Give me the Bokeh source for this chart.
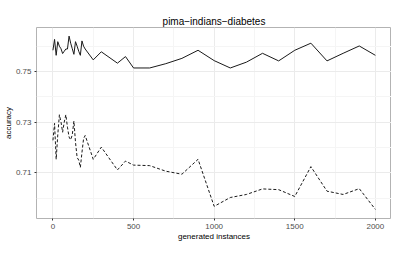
from bokeh.plotting import figure
from bokeh.models import Range1d, FixedTicker, Title
from bokeh.embed import file_html
from bokeh.resources import INLINE

# data
instances = [0, 10, 20, 30, 40, 50, 60, 70, 80, 90, 100, 110, 120, 130, 140, 150, 160, 170, 180, 190, 200,
             250, 300, 400, 450, 500, 600, 700, 800, 900, 1000, 1100, 1200, 1300, 1400, 1500, 1600, 1700,
             1800, 1900, 2000]
acc_solid = [0.7584, 0.7627, 0.7564, 0.7618, 0.7600, 0.7590, 0.7571, 0.7580, 0.7589, 0.7589, 0.7640,
             0.7612, 0.7590, 0.7568, 0.7618, 0.7600, 0.7580, 0.7564, 0.7621, 0.7600, 0.7589,
             0.7546, 0.7578, 0.7533, 0.7559, 0.7514, 0.7514, 0.7531, 0.7552, 0.7584, 0.7543, 0.7514,
             0.7537, 0.7572, 0.7542, 0.7584, 0.7612, 0.7542, 0.7572, 0.7601, 0.7564]
acc_dashed = [0.7228, 0.7295, 0.7153, 0.7250, 0.7329, 0.7300, 0.7260, 0.7300, 0.7329, 0.7280, 0.7241,
              0.7230, 0.7250, 0.7304, 0.7220, 0.7160, 0.7150, 0.7121, 0.7180, 0.7235, 0.7247,
              0.7153, 0.7201, 0.7111, 0.7146, 0.7130, 0.7128, 0.7106, 0.7094, 0.7153, 0.6967, 0.7002,
              0.7014, 0.7036, 0.7033, 0.7006, 0.7124, 0.7027, 0.7014, 0.7037, 0.6955]
x_ticks = [0, 500, 1000, 1500, 2000]
y_ticks = [0.71, 0.73, 0.75]

p = figure(width=391, height=243, output_backend="svg", toolbar_location=None,
           x_range=Range1d(-102, 2100), y_range=Range1d(0.6919, 0.7674),
           min_border_left=0, min_border_right=0, min_border_top=0, min_border_bottom=24)

t = Title(text="pima\u2212indians\u2212diabetes", align="center", text_font_size="10px",
          text_font="Liberation Sans", text_font_style="normal", text_color="black",
          standoff=1, offset=0)
p.add_layout(t, "above")
p.add_layout(Title(text=" ", text_font_size="10px", standoff=0), "above")

p.background_fill_color = "white"
p.border_fill_color = "white"
p.outline_line_color = "#b3b3b3"
p.outline_line_width = 1

p.xaxis.ticker = FixedTicker(ticks=x_ticks, minor_ticks=[250, 750, 1250, 1750])
p.yaxis.ticker = FixedTicker(ticks=y_ticks, minor_ticks=[0.70, 0.72, 0.74, 0.76])
p.yaxis.formatter.use_scientific = False

for ax in (p.xaxis, p.yaxis):
    ax.axis_line_color = None
    ax.major_tick_line_color = "#333333"
    ax.major_tick_out = 2
    ax.major_tick_in = 0
    ax.minor_tick_line_color = None
    ax.major_label_text_font = "Liberation Sans"
    ax.major_label_text_font_size = "8px"
    ax.major_label_text_color = "#4d4d4d"
    ax.axis_label_text_font = "Liberation Sans"
    ax.axis_label_text_font_size = "8px"
    ax.axis_label_text_font_style = "normal"
    ax.axis_label_text_color = "black"
    ax.major_label_standoff = 1
    ax.axis_label_standoff = 0

p.xaxis.axis_label = "generated instances"
p.yaxis.axis_label = "accuracy"

p.xgrid.grid_line_color = "#ebebeb"
p.ygrid.grid_line_color = "#ebebeb"
p.xgrid.minor_grid_line_color = "#f5f5f5"
p.ygrid.minor_grid_line_color = "#f5f5f5"
p.xgrid.grid_line_width = 1
p.ygrid.grid_line_width = 1

p.line(instances, acc_solid, line_color="#1a1a1a", line_width=1)
p.line(instances, acc_dashed, line_color="#1a1a1a", line_width=1, line_dash="3 2")

open("out.html", "w").write(file_html(p, INLINE))
